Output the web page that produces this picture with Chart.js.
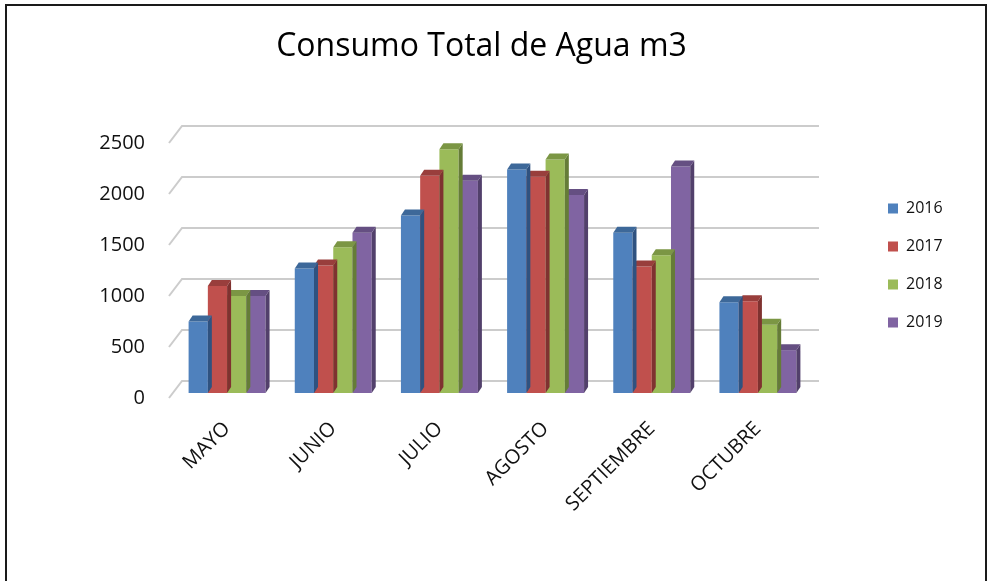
<!DOCTYPE html>
<html>
<head>
<meta charset="utf-8">
<script src="https://cdn.jsdelivr.net/npm/chart.js@4/dist/chart.umd.min.js"></script>
<style>
  html, body { margin: 0; padding: 0; background: #fff; }
  #wrap { width: 993px; height: 581px; }
</style>
</head>
<body>
<div id="wrap"><canvas id="myChart" width="993" height="581"></canvas></div>
<script>
/* globals Chart */

const months = ["MAYO", "JUNIO", "JULIO", "AGOSTO", "SEPTIEMBRE", "OCTUBRE"];
const years = ["2016", "2017", "2018", "2019"];
const values2016 = [700, 1220, 1740, 2190, 1570, 890];
const values2017 = [1050, 1250, 2130, 2120, 1240, 900];
const values2018 = [950, 1430, 2390, 2290, 1350, 670];
const values2019 = [950, 1570, 2080, 1940, 2220, 420];
const yTicks = [0, 500, 1000, 1500, 2000, 2500];

const fronts = ["#4f81bd", "#c0504d", "#9bbb59", "#8064a2"];
const tops = ["#3d6899", "#993e3c", "#7b9644", "#654f82"];
const sides = ["#2f5280", "#7f3230", "#657c37", "#52406b"];

const FONT = "'Open Sans', 'Liberation Sans', sans-serif";
const DX = 4; // 3d depth
const DY = 6;

// layout numbers
const legendFont = "16px " + FONT;
const mctx = document.createElement("canvas").getContext("2d");
mctx.font = legendFont;
const legendTextW = Math.max(...years.map((y) => mctx.measureText(y).width));
const legendPad = 22;
const legendW = legendPad + 10 + 8 + legendTextW + 10;
const padRight = 993 - 866 - legendW;
const padLeft = padRight - 30;

const frame = {
  id: "frame",
  beforeDraw(chart) {
    const c = chart.ctx;
    c.save();
    c.fillStyle = "#fff";
    c.fillRect(0, 0, chart.width, chart.height);
    c.strokeStyle = "#1a1a1a";
    c.lineWidth = 2;
    c.strokeRect(6, 5, 980, 700);
    c.restore();
  },
};

const backGrid = {
  id: "backGrid",
  beforeDatasetsDraw(chart) {
    const c = chart.ctx;
    const a = chart.chartArea;
    const ys = chart.scales.y;
    c.save();
    c.strokeStyle = "#cccccc";
    c.lineWidth = 2;
    yTicks.forEach((v) => {
      const yf = ys.getPixelForValue(v);
      c.beginPath();
      c.moveTo(a.left - 5, yf + 5);
      c.lineTo(a.left + 8, yf - 12);
      c.lineTo(a.right + 8, yf - 12);
      c.stroke();
    });
    c.restore();
  },
};

const bars3d = {
  id: "bars3d",
  afterDatasetDraw(chart, args) {
    const c = chart.ctx;
    const i = args.index;
    const meta = args.meta;
    c.save();
    meta.data.forEach((bar) => {
      const { x, y, width, base } = bar.getProps(["x", "y", "width", "base"], true);
      const l = x - width / 2;
      const r = x + width / 2;
      c.fillStyle = sides[i];
      c.beginPath();
      c.moveTo(r, y);
      c.lineTo(r + DX, y - DY);
      c.lineTo(r + DX, base - DY);
      c.lineTo(r, base);
      c.closePath();
      c.fill();
      c.fillStyle = tops[i];
      c.beginPath();
      c.moveTo(l, y);
      c.lineTo(l + DX, y - DY);
      c.lineTo(r + DX, y - DY);
      c.lineTo(r, y);
      c.closePath();
      c.fill();
    });
    c.restore();
  },
};

const series = [values2016, values2017, values2018, values2019];

const ctx = document.getElementById("myChart").getContext("2d");

/* exported myChart */

const myChart = new Chart(ctx, {
  type: "bar",
  data: {
    labels: months,
    datasets: years.map((yr, i) => ({
      label: yr,
      data: series[i],
      backgroundColor: fronts[i],
      borderWidth: 0,
      categoryPercentage: 0.725,
      barPercentage: 1.0,
    })),
  },
  plugins: [frame, backGrid, bars3d],
  options: {
    responsive: false,
    animation: false,
    layout: {
      padding: { left: padLeft, right: padRight, top: 0, bottom: 0 },
    },
    scales: {
      x: {
        grid: { display: false },
        border: { display: false },
        ticks: {
          color: "#111",
          minRotation: 45,
          maxRotation: 45,
          padding: 16,
          font: { family: FONT, size: 20 },
        },
        afterFit: (s) => {
          s.height = 188;
        },
      },
      y: {
        min: 0,
        max: 2500,
        grid: { display: false, drawTicks: false },
        border: { display: false },
        ticks: {
          stepSize: 500,
          padding: 29,
          labelOffset: 5,
          color: "#111",
          callback: (v) => String(v),
          font: { family: FONT, size: 20 },
        },
        afterFit: (s) => {
          s.width = 174 - padLeft;
        },
      },
      spacer: {
        position: "right",
        grid: { display: false, drawTicks: false },
        border: { display: false },
        ticks: { display: false },
        afterFit: (s) => {
          s.width = 55;
        },
      },
    },
    plugins: {
      title: {
        display: true,
        text: "Consumo Total de Agua m3",
        color: "#000",
        font: { family: FONT, size: 32, weight: "normal" },
        padding: { top: 28, bottom: 71.6 },
      },
      legend: {
        position: "right",
        fullSize: false,
        labels: {
          boxWidth: 10,
          boxHeight: 10,
          padding: legendPad,
          color: "#111",
          font: { family: FONT, size: 16 },
        },
      },
      tooltip: { enabled: false },
    },
  },
});
</script>
</body>
</html>
